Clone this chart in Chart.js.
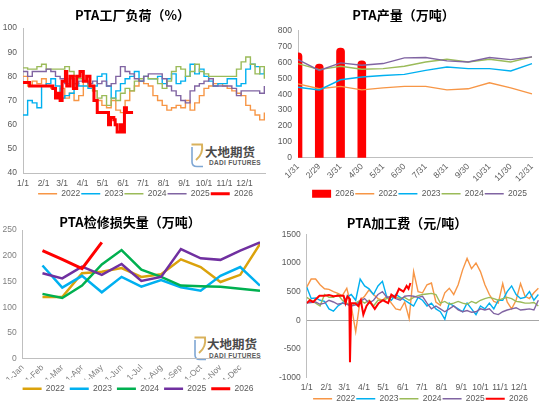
<!DOCTYPE html>
<html><head><meta charset="utf-8">
<script src="https://cdn.jsdelivr.net/npm/chart.js@4.4.0/dist/chart.umd.min.js"></script>
<style>
html,body{margin:0;padding:0;background:#fff;}
body{width:550px;height:413px;position:relative;overflow:hidden;}
.q{position:absolute;z-index:1;}
.wm{position:absolute;z-index:0;}
.wm svg{position:absolute;left:0;top:0;}
.wt{position:absolute;font-family:'Noto Sans CJK SC',sans-serif;font-size:12.5px;font-weight:bold;color:#4a4a4a;white-space:nowrap;line-height:14px;}
.ws{position:absolute;font-family:'Liberation Sans',Arial,sans-serif;font-size:6.5px;font-weight:bold;color:#5a5a5a;white-space:nowrap;letter-spacing:0.3px;line-height:8px;}
</style></head><body>
<div class="wm" style="left:190px;top:143px;width:70px;height:26px">
 <svg width="15" height="25" viewBox="0 0 15 25"><path d="M1.5 1.5 H12 Q13.5 11 6 17" stroke="#D9B25C" stroke-width="2" fill="none"/><path d="M2 4 V19 Q2 23.5 7 23.5 H13" stroke="#7FA7D4" stroke-width="1.6" fill="none"/></svg>
 <div class="wt" style="left:15px;top:2px">大地期货</div>
 <div class="ws" style="left:19px;top:16px">DADI FUTURES</div>
</div>
<div class="wm" style="left:193px;top:336px;width:70px;height:26px">
 <svg width="15" height="25" viewBox="0 0 15 25"><path d="M1.5 1.5 H12 Q13.5 11 6 17" stroke="#D9B25C" stroke-width="2" fill="none"/><path d="M2 4 V19 Q2 23.5 7 23.5 H13" stroke="#7FA7D4" stroke-width="1.6" fill="none"/></svg>
 <div class="wt" style="left:14px;top:1px">大地期货</div>
 <div class="ws" style="left:16px;top:16px">DADI FUTURES</div>
</div>
<div class="q" style="left:0;top:0;width:275px;height:208px"><canvas id="c1"></canvas></div>
<div class="q" style="left:275px;top:0;width:275px;height:208px"><canvas id="c2"></canvas></div>
<div class="q" style="left:0;top:205px;width:275px;height:198px"><canvas id="c3"></canvas></div>
<div class="q" style="left:275px;top:205px;width:275px;height:208px"><canvas id="c4"></canvas></div>
<script>
// ---------- shared axes ----------
const weekDays = [0,7,14,21,28,35,42,49,56,63,70,77,84,91,98,105,112,119,126,133,140,147,154,161,168,175,182,189,196,203,210,217,224,231,238,245,252,259,266,273,280,287,294,301,308,315,322,329,336,343,350,357,364];
const monthStarts = [0,31,59,90,120,151,181,212,243,273,304,334];
const monthLabels = ['1/1','2/1','3/1','4/1','5/1','6/1','7/1','8/1','9/1','10/1','11/1','12/1'];
const yearNames = ['2022','2023','2024','2025','2026'];

// ---------- PTA工厂负荷（%） ----------
const load2022 = [80,76,78,77,79,76,75,73,75,71,73,70,72,78,76,74,70,68,67,70,66,65,70,74,76,78,77,76,72,70,68,66,67,68,67,70,66,69,72,75,76,77,77,76,75,74,73,72,68,66,64,62,65];
const load2023 = [64,70,69,67,76,77,79,76,71,72,73,77,76,76,75,76,80,81,76,71,74,77,79,80,82,78,80,79,79,80,77,79,81,77,78,80,85,81,83,80,78,76,77,77,79,79,76,77,83,85,84,81,83];
const load2024 = [83.5,83,83,84,85,83,83,83,83,84,82,80,79,78,76,74,71,72,68,71,70,73,75,74,78,79,80,79,79,77,75,78,82,84,83,80,82,85,82,81,80,80,80,80,80,80,83,86,88,85,81,84,79];
const load2025 = [82,80,82,82,82,83,82,80,79,77,79,77,78,78,77,78,77,78,76,77,80,84,82,81,79,78,80,81,81,81,79,76,74,72,70,69,74,76,77,78,79,76,76,76,76,75,72,74,74,74,74,73,76];
const load2026Days = [0,10,20,30,40,45,49,53,56,59,64,66,71,76,81,86,91,96,101,107,112,120,127,129,132,137,139,142,147,149,153,156,166];
const load2026 = [77.5,76,76,76,76,75,71,73,70,78,82,76,80,75,80,82,78,80,76,70,65,65,65,60,63,62,60,57,60,57,67,65,65];

// ---------- PTA产量（万吨） ----------
const outputLabels = ['1/31','2/29','3/31','4/30','5/31','6/30','7/31','8/31','9/30','10/31','11/30','12/31'];
const output2026 = [660,590,690,610];
const output2022 = [465,434,449,427,440,449,449,427,434,472,440,402];
const output2023 = [444,427,491,508,518,525,550,571,561,561,546,593];
const output2024 = [593,555,576,557,561,576,603,620,603,620,603,635];
const output2025 = [618,550,597,582,593,629,631,610,603,631,618,635];

// ---------- PTA检修损失量（万吨） ----------
const maintLabels = ['1-Jan','1-Feb','1-Mar','1-Apr','1-May','1-Jun','1-Jul','1-Aug','1-Sep','1-Oct','1-Nov','1-Dec'];
const maintPos = [1,2,3,4,5,6,7,8,9,10,11,12];
const maint2022 = [120,120,166,169,176,159,164,193,178,149,163,223];
const maint2023 = [181,138,161,129,159,140,153,139,132,161,178,142];
const maint2024 = [126,118,142,183,211,173,159,142,141,140,136,132];
const maint2025 = [166,156,179,163,184,151,159,213,195,192,210,226];
const maint2026 = [210,193,175,226];

// ---------- PTA加工费（元/吨） ----------
const fee2022 = [580,720,720,620,550,540,500,470,430,560,250,-200,350,420,530,450,380,350,420,300,200,180,320,30,850,500,480,620,650,320,260,480,560,450,620,880,1080,900,1000,850,620,450,330,300,640,320,200,350,640,420,380,480,560];
const fee2023 = [580,380,390,350,330,200,160,250,300,400,450,350,720,600,550,450,600,680,400,350,450,400,350,300,250,400,350,250,300,200,150,20,300,250,200,150,300,200,100,250,200,300,200,350,350,500,600,450,380,400,500,350,450];
const fee2024 = [400,350,300,250,450,400,400,450,350,300,250,300,350,300,350,250,350,350,380,400,400,380,400,350,400,430,450,460,470,450,300,330,280,300,330,300,280,330,300,350,380,400,380,350,380,400,380,330,320,300,300,310,250];
const fee2025 = [300,310,320,280,300,350,320,280,300,280,250,270,330,380,300,350,450,500,400,420,380,350,420,430,420,400,420,300,200,250,200,150,200,250,180,150,170,140,150,200,180,200,120,100,150,180,200,220,180,190,200,180,350];
const fee2026Days = [0,5,10,20,28,35,42,50,58,61,64,67,68,70,76,81,85,89,94,99,107,113,120,128,133,139,145,152,157,160,163];
const fee2026 = [300,350,320,430,430,440,420,430,430,300,420,380,-730,300,300,250,350,100,250,330,200,300,350,300,450,400,550,500,600,550,650];

// ---------- helpers ----------
const xy = (xs, ys) => ys.map((y, i) => ({x: xs[i], y: y}));
const C = {o:'#F79646', c:'#00B0F0', g:'#9BBB59', p:'#8064A2', r:'#FF0000', gold:'#DBA20B', g2:'#00B050', p2:'#7030A0'};
const AX = '#BFBFBF';
Chart.defaults.font.family = "'Liberation Sans', Arial, 'Noto Sans CJK SC', sans-serif";
Chart.defaults.font.size = 8.5;
Chart.defaults.color = '#595959';

function line(label, data, color, w, order, extra) {
  return Object.assign({type:'line', label, data, borderColor:color, backgroundColor:color, borderWidth:w,
    pointRadius:0, tension:0, fill:false, order:order}, extra || {});
}
function shift(dx) {
  return {id:'legendShift', afterLayout(ch){ if (ch.legend){ ch.legend.left += dx; ch.legend.right += dx; } }};
}
function opts(c) {
  const legendLabels = {usePointStyle:true, pointStyle:'line', pointStyleWidth:c.psw, padding:c.lp,
    color:'#595959', font:{size:8.5}, sort:(a,b)=>a.datasetIndex-b.datasetIndex};
  if (c.gen) legendLabels.generateLabels = c.gen;
  return {
    responsive:true, maintainAspectRatio:false, animation:false,
    layout:{padding:{left:0, right:c.padR, top:0, bottom:0}},
    plugins:{
      title:{display:true, text:c.title, color:'#000',
        font:{family:"'Noto Sans CJK SC', sans-serif", size:13, weight:'bold'},
        padding:{top:c.tp, bottom:c.tb}},
      legend:{position:'bottom', labels:legendLabels},
      tooltip:{enabled:false}
    },
    scales:{x:c.x, y:c.y}
  };
}
function yAxis(min, max, step, w, extra) {
  return Object.assign({min, max, ticks:{stepSize:step, padding:6, callback:v=>String(v)},
    grid:{display:false, drawTicks:false}, border:{display:true, color:AX},
    afterFit:s=>{s.width = w;}}, extra || {});
}

// ---------- chart 1 ----------
new Chart(document.getElementById('c1'), {
  type:'line',
  data:{datasets:[
    line(yearNames[0], xy(weekDays, load2022), C.o, 1.4, 4, {stepped:true}),
    line(yearNames[1], xy(weekDays, load2023), C.c, 1.4, 3, {stepped:true}),
    line(yearNames[2], xy(weekDays, load2024), C.g, 1.4, 2, {stepped:true}),
    line(yearNames[3], xy(weekDays, load2025), C.p, 1.4, 1, {stepped:true}),
    line(yearNames[4], xy(load2026Days, load2026), C.r, 3, 0, {stepped:true})
  ]},
  options:opts({title:'PTA工厂负荷（%）', tp:7.2, tb:5.2, padR:10, psw:19, lp:1,
    x:{type:'linear', min:0, max:365,
      afterBuildTicks:s=>{s.ticks = monthStarts.map(v=>({value:v}));},
      ticks:{autoSkip:false, maxRotation:0, padding:6, callback:(v,i)=>monthLabels[i]},
      grid:{display:false, drawTicks:false}, border:{display:true, color:AX},
      afterFit:s=>{s.height = 15.5;}},
    y:yAxis(40, 100, 10, 23)}),
  plugins:[shift(13)]
});

// ---------- chart 2 ----------
new Chart(document.getElementById('c2'), {
  type:'bar',
  data:{labels:outputLabels, datasets:[
    {type:'bar', label:yearNames[4], data:output2026, backgroundColor:C.r, borderWidth:0,
      borderRadius:{topLeft:4, topRight:4}, borderSkipped:'bottom', barThickness:8, order:10},
    line(yearNames[0], output2022, C.o, 1.4, 4),
    line(yearNames[1], output2023, C.c, 1.4, 3),
    line(yearNames[2], output2024, C.g, 1.4, 2),
    line(yearNames[3], output2025, C.p, 1.4, 1)
  ]},
  options:opts({title:'PTA产量（万吨）', tp:7.2, tb:7.9, padR:18, psw:19, lp:1,
    gen:(chart)=>{
      const items = Chart.defaults.plugins.legend.labels.generateLabels(chart);
      items.forEach(it=>{ if (it.datasetIndex === 0){ it.lineWidth = 8; it.strokeStyle = C.r; it.lineCap = 'butt'; } });
      return items;
    },
    x:{type:'category', offset:false,
      ticks:{autoSkip:false, minRotation:45, maxRotation:45, padding:4},
      grid:{display:false, drawTicks:false}, border:{display:true, color:AX},
      afterFit:s=>{s.height = 30.8;}},
    y:yAxis(0, 800, 100, 23)}),
  plugins:[shift(16)]
});

// ---------- chart 3 ----------
new Chart(document.getElementById('c3'), {
  type:'line',
  data:{datasets:[
    line(yearNames[0], xy(maintPos, maint2022), C.gold, 2.5, 4),
    line(yearNames[1], xy(maintPos, maint2023), C.c, 2.5, 3),
    line(yearNames[2], xy(maintPos, maint2024), C.g2, 2.5, 2),
    line(yearNames[3], xy(maintPos, maint2025), C.p2, 2.5, 1),
    line(yearNames[4], xy(maintPos, maint2026), C.r, 3, 0)
  ]},
  options:opts({title:'PTA检修损失量（万吨）', tp:9.2, tb:0.2, padR:15, psw:19, lp:5,
    x:{type:'linear', min:0, max:12,
      afterBuildTicks:s=>{s.ticks = maintLabels.map((l,i)=>({value:i}));},
      ticks:{autoSkip:false, minRotation:45, maxRotation:45, padding:4, color:'#7F7F7F', callback:(v,i)=>maintLabels[i]},
      grid:{display:false, drawTicks:false}, border:{display:true, color:AX},
      afterFit:s=>{s.height = 20.75;}},
    y:yAxis(0, 250, 50, 22.7, {ticks:{stepSize:50, padding:6, color:'#7F7F7F', callback:v=>String(v)}})}),
  plugins:[shift(8)]
});

// ---------- chart 4 ----------
new Chart(document.getElementById('c4'), {
  type:'line',
  data:{datasets:[
    line(yearNames[0], xy(weekDays, fee2022), C.o, 1.4, 4),
    line(yearNames[1], xy(weekDays, fee2023), C.c, 1.4, 3),
    line(yearNames[2], xy(weekDays, fee2024), C.g, 1.4, 2),
    line(yearNames[3], xy(weekDays, fee2025), C.p, 1.4, 1),
    line(yearNames[4], xy(fee2026Days, fee2026), C.r, 2, 0)
  ]},
  options:opts({title:'PTA加工费（元/吨）', tp:10.2, tb:3.5, padR:11, psw:19, lp:1,
    x:{type:'linear', min:0, max:365,
      afterBuildTicks:s=>{s.ticks = monthStarts.map(v=>({value:v}));},
      ticks:{autoSkip:false, maxRotation:0, padding:5, callback:(v,i)=>monthLabels[i]},
      grid:{display:false, drawTicks:false}, border:{display:false},
      afterFit:s=>{s.height = 15.8;}},
    y:yAxis(-1000, 1500, 500, 31.7, {grid:{display:true, drawTicks:false,
      color:c=>(c.tick && c.tick.value === 0) ? '#A6A6A6' : 'rgba(0,0,0,0)'}})}),
  plugins:[shift(13.5)]
});
</script>
</body></html>
